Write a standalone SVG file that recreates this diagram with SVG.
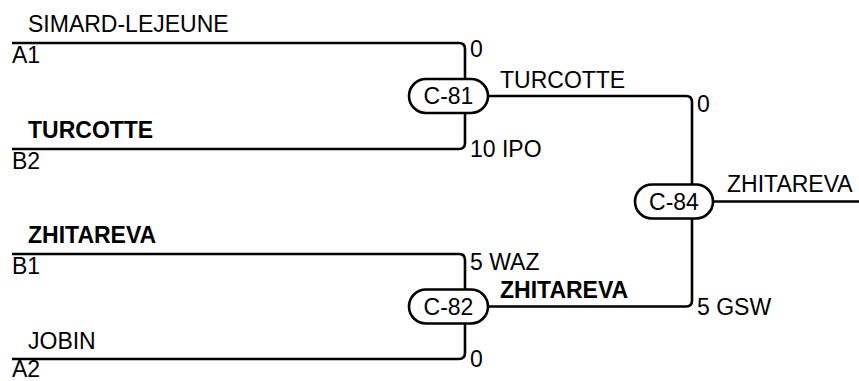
<svg xmlns="http://www.w3.org/2000/svg" width="859" height="381" viewBox="0 0 859 381">
<style>
text{font-family:"Liberation Sans",Arial,sans-serif;font-size:23px;fill:#000}
.b{font-weight:bold}
.c{text-anchor:middle}
.w{fill:none;stroke:#000;stroke-width:2.6}
.n{fill:#fff;stroke:#000;stroke-width:2.6}
</style>
<rect width="859" height="381" fill="#fff"/>
<g id="connectors">
<path class="w" d="M12,43 H459 Q465,43 465,49 V79"/>
<path class="w" d="M12,149 H459 Q465,149 465,143 V113"/>
<path class="w" d="M12,254 H459 Q465,254 465,260 V290"/>
<path class="w" d="M12,359 H459 Q465,359 465,353 V323"/>
<path class="w" d="M486,96 H686 Q692,96 692,102 V184"/>
<path class="w" d="M486,306.5 H686 Q692,306.5 692,300.5 V218"/>
<path class="w" d="M711,201.5 H859"/>
</g>
<g id="entrants">
<text x="28" y="32">SIMARD-LEJEUNE</text>
<text x="12" y="63">A1</text>
<text x="28" y="138" class="b">TURCOTTE</text>
<text x="12" y="169">B2</text>
<text x="28" y="243" class="b">ZHITAREVA</text>
<text x="12" y="274">B1</text>
<text x="28" y="349">JOBIN</text>
<text x="12" y="377">A2</text>
</g>
<g id="scores">
<text x="470" y="57">0</text>
<text x="470" y="157">10 IPO</text>
<text x="470" y="270">5 WAZ</text>
<text x="470" y="367">0</text>
<text x="697" y="112">0</text>
<text x="697" y="315">5 GSW</text>
<text x="500" y="88">TURCOTTE</text>
<text x="500" y="298" class="b">ZHITAREVA</text>
<text x="727" y="192">ZHITAREVA</text>
</g>
<g id="C-81">
<rect class="n" x="409" y="79" width="79" height="34" rx="17"/>
<text x="448.5" y="104" class="c">C-81</text>
</g>
<g id="C-82">
<rect class="n" x="409" y="289.5" width="79" height="34" rx="17"/>
<text x="448.5" y="314.5" class="c">C-82</text>
</g>
<g id="C-84">
<rect class="n" x="635" y="184.5" width="78" height="34" rx="17"/>
<text x="674" y="209.5" class="c">C-84</text>
</g>
</svg>
